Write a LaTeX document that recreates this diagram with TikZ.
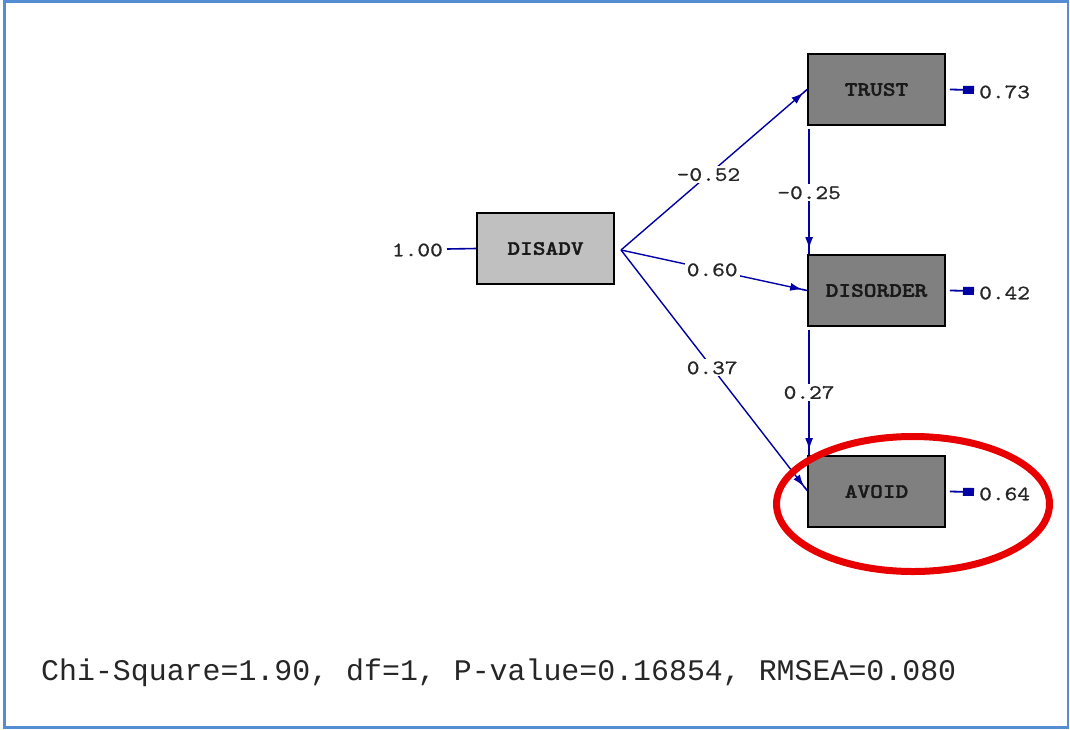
\documentclass[tikz,border=0pt]{standalone}
\usepackage{fontspec}
\newfontfamily\fitfont{Liberation Mono}
\newfontfamily\boxfont{lmmonolt10-bold.otf}[FakeStretch=1.18,FakeBold=1.6]
\newfontfamily\numfont{lmmono10-regular.otf}[FakeStretch=1.18,FakeBold=0.8]
\usetikzlibrary{arrows.meta,calc}
\definecolor{framec}{RGB}{84,141,212}
\definecolor{pathc}{RGB}{0,0,165}
\definecolor{exoc}{RGB}{192,192,192}
\definecolor{endoc}{RGB}{128,128,128}
\definecolor{ringc}{RGB}{232,0,0}
\begin{document}
\begin{tikzpicture}[x=1pt,y=-1pt,
  varbox/.style={draw=black, line width=1.8pt, minimum width=137pt, minimum height=71pt, inner sep=0pt,
    font=\fontsize{20.5}{22}\boxfont, text=black!90},
  coef/.style={fill=white, inner sep=2pt, font=\fontsize{20.5}{22}\numfont, text=black!85},
  errlab/.style={inner sep=0pt, anchor=west, font=\fontsize{20.5}{22}\numfont, text=black!85},
  path/.style={draw=pathc, line width=1.4pt, -{Latex[length=12pt,width=8pt] Rectangle[length=5pt,width=1.6pt]}},
  errpath/.style={draw=pathc, line width=1.8pt, -{Rectangle[length=11pt,width=8pt]}}
]
\useasboundingbox (0,0) rectangle (1070,729);
\draw[framec, line width=2.5pt] (4.5,1.5) rectangle (1068,727.5);

% variables
\node[varbox, fill=exoc] (disadv) at (545.5,248.5) {DISADV};
\node[varbox, fill=endoc] (trust) at (876.5,89.5) {TRUST};
\node[varbox, fill=endoc] (disorder) at (876.5,290.5) {DISORDER};
\node[varbox, fill=endoc] (avoid) at (876.5,491.5) {AVOID};

% variance of DISADV
\node[errlab, anchor=east] (v1) at (443,250) {1.00};
\draw[draw=pathc, line width=1.6pt] (v1.east) ++(4,-1) -- (disadv.west);

% source point of paths
\coordinate (src) at (621,250);

\draw[path] (src) -- (trust.west) node[coef, pos=0.47] {-0.52};
\draw[path] (src) -- (disorder.west) node[coef, pos=0.49] {0.60};
\draw[path] (src) -- ($(avoid.west)+(0,-1)$) node[coef, pos=0.49] {0.37};

\draw[path, line width=1.8pt] ($(trust.south west)+(2,3)$) -- ($(disorder.north west)+(2,0)$) node[coef, pos=0.51] {-0.25};
\draw[path, line width=1.8pt] ($(disorder.south west)+(2,3)$) -- ($(avoid.north west)+(2,0)$) node[coef, pos=0.50] {0.27};

% error variances
\node[errlab] (e1) at (979,92) {0.73};
\node[errlab] (e2) at (979,293) {0.42};
\node[errlab] (e3) at (979,494) {0.64};
\draw[errpath] ($(trust.east)+(4,0)$) -- ($(e1.west)+(-5,-2)$);
\draw[errpath] ($(disorder.east)+(4,0)$) -- ($(e2.west)+(-5,-2)$);
\draw[errpath] ($(avoid.east)+(4,0)$) -- ($(e3.west)+(-5,-2)$);

% highlight ring
\draw[ringc, line width=7pt] (913,504) ellipse [x radius=136.5pt, y radius=67.5pt];

% fit statistics
\node[anchor=west, inner sep=0pt, font=\fontsize{29.9}{32}\fitfont, text=black!85] (fit) at (41,673)
  {Chi-Square=1.90, df=1, P-value=0.16854, RMSEA=0.080};
\end{tikzpicture}
\end{document}
